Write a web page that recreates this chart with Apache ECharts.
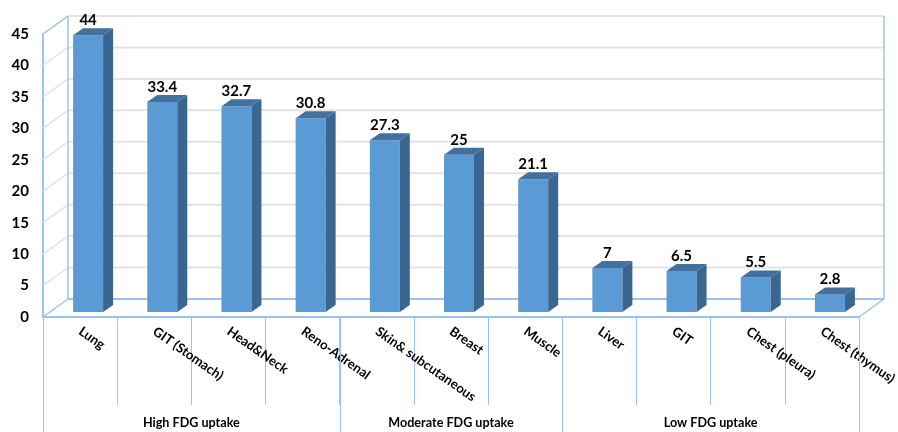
<!DOCTYPE html>
<html>
<head>
<meta charset="utf-8">
<style>html,body{margin:0;padding:0;background:#fff}#c{width:898px;height:432px}</style>
<script src="https://cdn.jsdelivr.net/npm/echarts@6/dist/echarts.min.js"></script>
</head>
<body>
<div id="c"></div>
<script>
const categories = ['Lung','GIT (Stomach)','Head&Neck','Reno-Adrenal','Skin& subcutaneous','Breast','Muscle','Liver','GIT','Chest (pleura)','Chest (thymus)'];
const values = [44,33.4,32.7,30.8,27.3,25,21.1,7,6.5,5.5,2.8];
const valueLabels = ['44','33.4','32.7','30.8','27.3','25','21.1','7','6.5','5.5','2.8'];
const yTicks = [5,10,15,20,25,30,35,40,45];
const groupNames = ['High FDG uptake','Moderate FDG uptake','Low FDG uptake'];
const groupStarts = [0,4,7];
const groupEnds = [4,7,11];

const FONT = 'Lato, "Open Sans", sans-serif';
const WALL_DX = 25, WALL_DY = -18;      // depth of the chart box
const BAR_DX = 10, BAR_DY = -7;         // depth of each bar
const BAR_W = 30, BAR_SHIFT_X = 8, BAR_SHIFT_Y = -5;
const BLUE = '#9cc4ea', GREY = '#e3e3e3';
const C_FRONT = '#5b9bd5', C_SIDE = '#3b668f', C_TOP = '#41719c';

function line(x1,y1,x2,y2,stroke,w){
  return {type:'line',shape:{x1,y1,x2,y2},style:{stroke,lineWidth:w,fill:null},silent:true};
}
function poly(points,fill){
  return {type:'polygon',shape:{points},style:{fill},silent:true};
}

const chart = echarts.init(document.getElementById('c'),null,{renderer:'canvas'});
chart.setOption({
  animation:false,
  backgroundColor:'#fff',
  grid:{left:43,right:39,top:34,bottom:115,containLabel:false,outerBoundsMode:'none'},
  xAxis:{
    type:'category',data:categories,boundaryGap:true,
    axisLine:{show:true,lineStyle:{color:BLUE,width:2}},
    axisTick:{show:true,length:88,lineStyle:{color:BLUE,width:1}},
    axisLabel:{interval:0,rotate:-35,margin:13,color:'#000',fontFamily:FONT,fontWeight:'bold',fontSize:13.2,hideOverlap:false}
  },
  yAxis:{
    type:'value',min:0,max:45,interval:5,
    axisLine:{show:true,lineStyle:{color:BLUE,width:2}},
    axisTick:{show:false},splitLine:{show:false},
    axisLabel:{margin:14,color:'#000',fontFamily:FONT,fontWeight:'bold',fontSize:15}
  },
  series:[
    {type:'custom',silent:true,z:1,data:yTicks.map(t=>[0,t]),
     renderItem(p,api){
       const cs=p.coordSys, y=api.coord([0,api.value(1)])[1];
       return {type:'group',children:[
         line(cs.x,y,cs.x+WALL_DX,y+WALL_DY,GREY,1.5),
         line(cs.x+WALL_DX,y+WALL_DY,cs.x+cs.width+WALL_DX,y+WALL_DY,GREY,2)
       ]};
     }},
    {type:'custom',silent:true,z:2,data:[[0,0]],
     renderItem(p,api){
       const cs=p.coordSys, x0=cs.x, x1=cs.x+cs.width, yb=cs.y+cs.height, yt=cs.y;
       return {type:'group',children:[
         line(x0,yt,x0+WALL_DX,yt+WALL_DY,BLUE,1.5),
         line(x0+WALL_DX,yt+WALL_DY,x0+WALL_DX,yb+WALL_DY,BLUE,1.5),
         line(x0,yb,x0+WALL_DX,yb+WALL_DY,BLUE,1.5),
         line(x0+WALL_DX,yb+WALL_DY,x1+WALL_DX,yb+WALL_DY,BLUE,2),
         line(x1,yb,x1+WALL_DX,yb+WALL_DY,BLUE,1.5),
         line(x1+WALL_DX,yb+WALL_DY,x1+WALL_DX,yt+WALL_DY,BLUE,1.5)
       ]};
     }},
    {type:'custom',silent:true,z:3,data:groupNames.map((n,i)=>[groupStarts[i],groupEnds[i]]),
     renderItem(p,api){
       const bw=api.size([1,0])[0], cs=p.coordSys, yb=cs.y+cs.height;
       const s=api.coord([api.value(0),0])[0]-bw/2, e=s+bw*(api.value(1)-api.value(0));
       const sx=Math.round(s)+0.5, ex=Math.round(e)+0.5;
       return {type:'group',children:[
         line(sx,yb,sx,432,BLUE,1),
         line(ex,yb,ex,432,BLUE,1),
         {type:'text',silent:true,x:(s+e)/2,y:423,style:{text:groupNames[p.dataIndex],fill:'#000',font:'bold 12.6px '+FONT,align:'center',verticalAlign:'middle'}}
       ]};
     }},
    {type:'custom',silent:true,z:4,data:values.map((v,i)=>[i,v]),
     renderItem(p,api){
       const c=api.coord([api.value(0),api.value(1)]), b=api.coord([api.value(0),0]);
       const l=c[0]+BAR_SHIFT_X-BAR_W/2, r=l+BAR_W, t=c[1]+BAR_SHIFT_Y, bt=b[1]+BAR_SHIFT_Y;
       return {type:'group',children:[
         poly([[l,t],[r,t],[r,bt],[l,bt]],C_FRONT),
         poly([[r,t],[r+BAR_DX,t+BAR_DY],[r+BAR_DX,bt+BAR_DY],[r,bt]],C_SIDE),
         poly([[l,t],[l+BAR_DX,t+BAR_DY],[r+BAR_DX,t+BAR_DY],[r,t]],C_TOP),
         {type:'text',silent:true,x:c[0]+BAR_SHIFT_X,y:t+BAR_DY-8,style:{text:valueLabels[p.dataIndex],fill:'#000',font:'bold 15px '+FONT,align:'center',verticalAlign:'middle'}}
       ]};
     }}
  ]
});
</script>
</body>
</html>
